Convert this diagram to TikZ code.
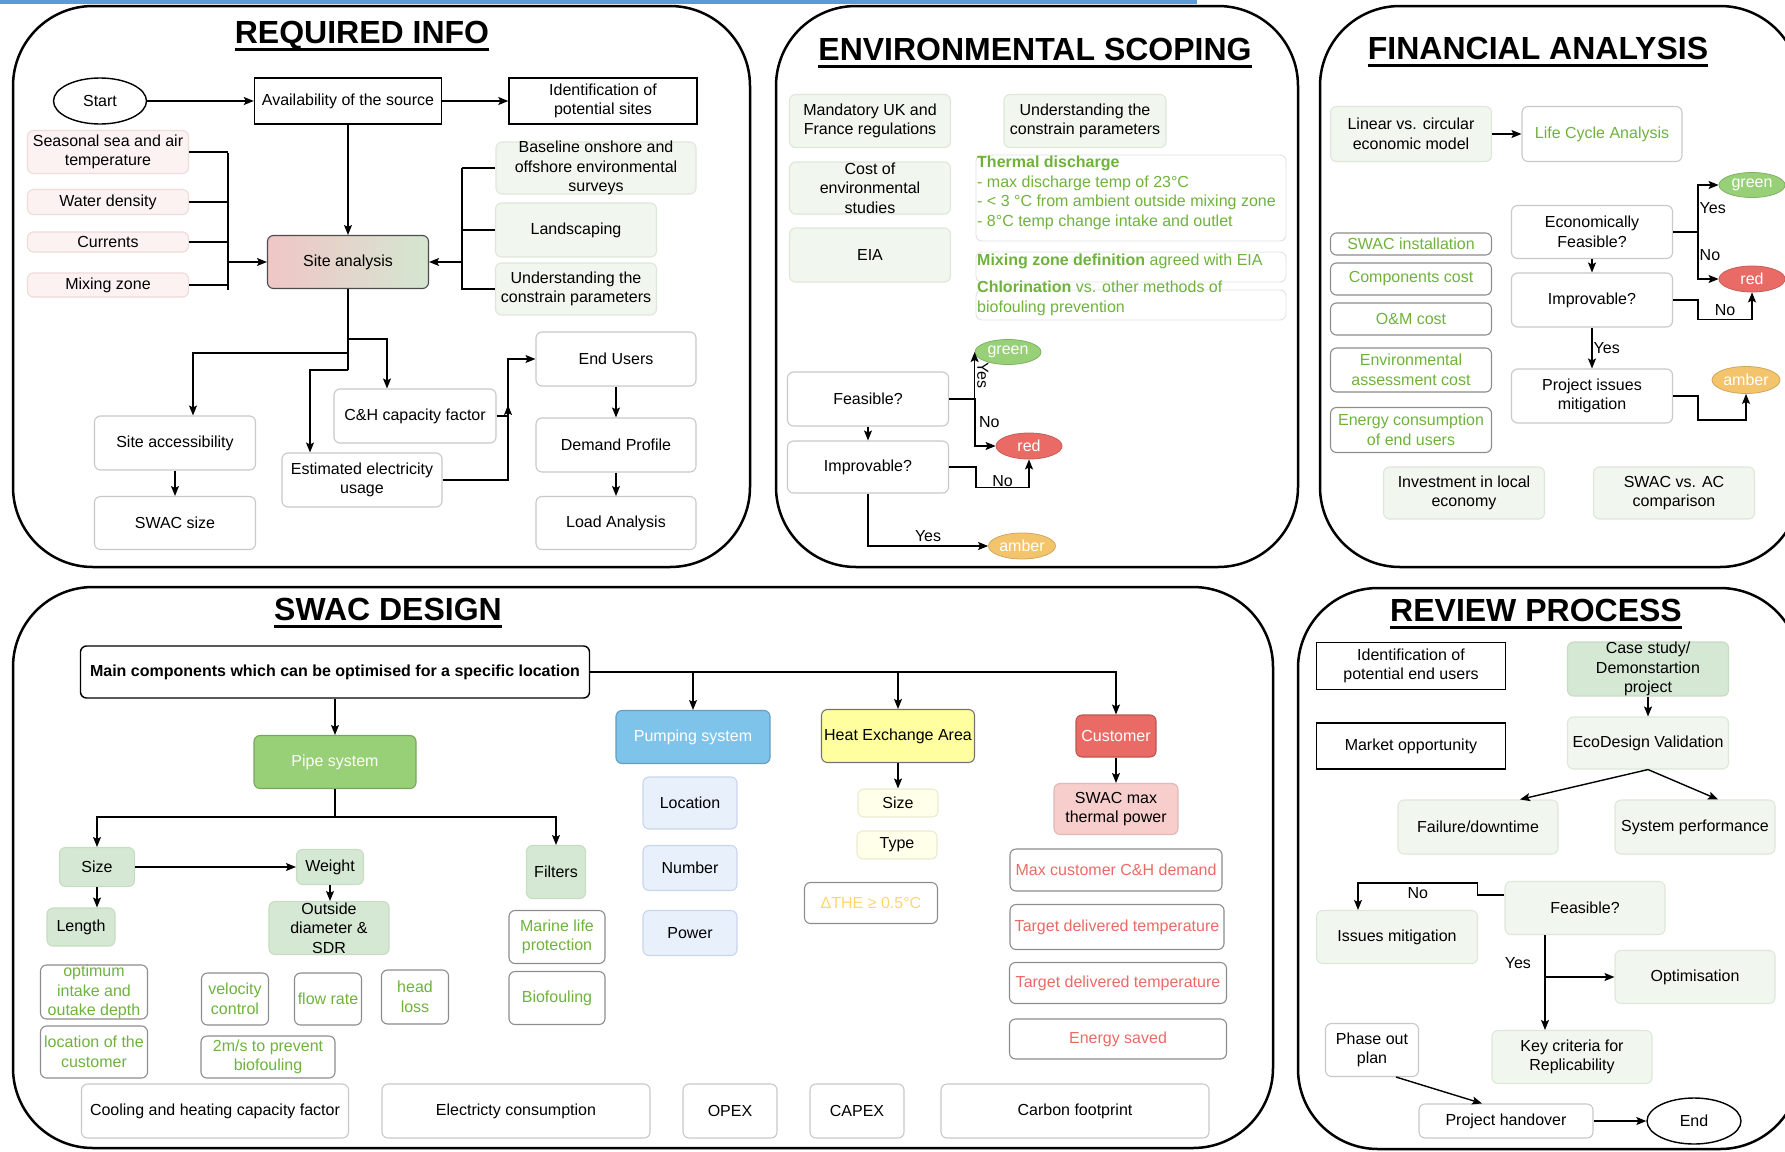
\documentclass[tikz,border=0pt]{standalone}
\usepackage{fontspec}
\setmainfont{Liberation Sans}
\usepackage{tikz}
\usetikzlibrary{positioning, arrows.meta, shapes.geometric}
\definecolor{barblue}{RGB}{91,155,213}
\definecolor{boxline}{RGB}{200,200,200}
\definecolor{darkline}{RGB}{140,140,140}
\definecolor{palegreen}{RGB}{241,246,238}
\definecolor{palegreenline}{RGB}{222,232,218}
\definecolor{midgreen}{RGB}{213,232,212}
\definecolor{leafline}{RGB}{200,220,195}
\definecolor{palepink}{RGB}{253,242,242}
\definecolor{palepinkline}{RGB}{240,218,218}
\definecolor{paleblue}{RGB}{232,240,252}
\definecolor{paleblueline}{RGB}{200,214,236}
\definecolor{paleyellow}{RGB}{255,255,234}
\definecolor{paleyellowline}{RGB}{235,235,210}
\definecolor{txtgreen}{RGB}{110,178,60}
\definecolor{txtred}{RGB}{234,107,102}
\definecolor{txtamber}{RGB}{255,214,110}
\definecolor{okgreen}{RGB}{151,208,119}
\definecolor{badred}{RGB}{234,107,102}
\definecolor{amber}{RGB}{244,196,108}
\definecolor{pumpblue}{RGB}{126,196,234}
\definecolor{heayellow}{RGB}{255,255,160}
\definecolor{custpink}{RGB}{248,206,204}
\definecolor{siteleft}{RGB}{240,198,198}
\definecolor{siteright}{RGB}{212,230,208}
\newcommand{\bodyfont}{\fontsize{16}{19.5}\selectfont}
\newcommand{\ttlfont}{\fontsize{32}{38}\selectfont\bfseries}

\begin{document}
\begin{tikzpicture}[x=1pt, y=-1pt, font=\bodyfont, >={Stealth[length=10pt, width=8pt, inset=2pt]},
  panel/.style={line width=2.5pt, rounded corners=80pt},
  ttl/.style={font=\ttlfont, inner sep=0pt, anchor=base},
  uline/.style={line width=3pt},
  conn/.style={line width=1.4pt},
  arr/.style={conn, ->},
  sz/.style 2 args={minimum width=#1, minimum height=#2},
  plain/.style={align=center, inner sep=0pt, rounded corners=6pt, line width=1.1pt},
  sbox/.style={plain, draw, sharp corners, line width=1.4pt},
  rbox/.style={plain, draw=boxline},
  dbox/.style={plain, draw=darkline},
  thinbox/.style={plain, draw=boxline!55, line width=0.9pt},
  pinkbox/.style={plain, draw=palepinkline, fill=palepink},
  greenbox/.style={plain, draw=palegreenline, fill=palegreen},
  leafbox/.style={plain, draw=leafline, fill=midgreen},
  bluebox/.style={plain, draw=paleblueline, fill=paleblue},
  yelbox/.style={plain, draw=paleyellowline, fill=paleyellow},
  oval/.style={ellipse, fill=#1, draw=#1!85!black, line width=0.8pt, text=white, inner sep=0pt, sz={66}{25}},
  tall/.style={inner ysep=-3pt},
  gt/.style={text=txtgreen}, rt/.style={text=txtred}]
  \useasboundingbox (0,0) rectangle (1785,1151);
  \clip (0,0) rectangle (1785,1151);

  % Frames
  \fill[barblue] (0,0) rectangle (1197,4);
  \draw[panel] (13,6) rectangle (750,567);
  \draw[panel] (776,6) rectangle (1298,567);
  \draw[panel] (1320,6) rectangle (1800,567);
  \draw[panel] (13,587) rectangle (1273,1148);
  \draw[panel] (1298,588) rectangle (1800,1149);
  \node[ttl] (t1) at (362,43) {REQUIRED INFO};
  \node[ttl] (t2) at (1035,60) {ENVIRONMENTAL SCOPING};
  \node[ttl] (t3) at (1538,59) {FINANCIAL ANALYSIS};
  \node[ttl] (t4) at (388,620) {SWAC DESIGN};
  \node[ttl] (t5) at (1536,621) {REVIEW PROCESS};
  \foreach \t in {t1,t2,t3,t4,t5}{
    \draw[uline] ([yshift=-6pt]\t.base west) -- ([yshift=-6pt]\t.base east);
  }

  % Required info
  \node[ellipse, draw, line width=1.4pt, inner sep=0pt, sz={93}{46}] (start) at (100,101) {Start};
  \node[sbox, sz={187}{46}] (avail) at (348,101) {Availability of the source};
  \node[sbox, sz={188}{46}] (ident) at (603,101) {Identification of\\potential sites};
  \node[pinkbox, sz={161}{43}] (seas) at (108,152) {Seasonal sea and air\\temperature};
  \node[pinkbox, sz={161}{25}] (dens) at (108,202) {Water density};
  \node[pinkbox, sz={161}{20}] (curr) at (108,242) {Currents};
  \node[pinkbox, sz={161}{24}] (mixz) at (108,285) {Mixing zone};
  \node[plain, draw=black!70, left color=siteleft, right color=siteright, sz={161}{53}] (site) at (348,262) {Site analysis};
  \node[greenbox, tall, sz={200}{52}] (surv) at (596,168) {Baseline onshore and\\offshore environmental\\surveys};
  \node[greenbox, sz={161}{54}] (land) at (576,230) {Landscaping};
  \node[greenbox, sz={161}{52}] (cons) at (576,289) {Understanding the\\constrain parameters};
  \node[rbox, sz={161}{54}] (acc) at (175,443) {Site accessibility};
  \node[rbox, sz={161}{53}] (swsz) at (175,523) {SWAC size};
  \node[rbox, sz={160}{54}] (est) at (362,480) {Estimated electricity\\usage};
  \node[rbox, sz={162}{54}] (chf) at (415,416) {C\&H capacity factor};
  \node[rbox, sz={160}{54}] (endu) at (616,359) {End Users};
  \node[rbox, sz={160}{54}] (dem) at (616,445) {Demand Profile};
  \node[rbox, sz={160}{53}] (load) at (616,523) {Load Analysis};
  \coordinate (lbt) at (228,153);
  \coordinate (lbb) at (228,290);
  \coordinate (rbt) at (462,168);
  \coordinate (rbb) at (462,290);
  \draw[arr] (start) -- (avail);
  \draw[arr] (avail) -- (ident);
  \draw[arr] (avail) -- (site);
  \foreach \n in {seas,dens,curr,mixz}{
    \draw[conn] (\n.east) -- (\n.east -| lbt);
  }
  \draw[conn] (lbt) -- (lbb);
  \draw[arr] (site.west -| lbt) -- (site.west);
  \foreach \n in {surv,land,cons}{
    \draw[conn] (\n.west) -- (\n.west -| rbt);
  }
  \draw[conn] (rbt) -- (rbb);
  \draw[arr] (site.east -| rbt) -- (site.east);
  \coordinate (s1) at (348,339);
  \coordinate (s2) at (348,353);
  \coordinate (s3) at (348,370);
  \draw[conn] (site.south) -- (s3);
  \draw[arr] (s1) -| ([xshift=-28pt]chf.north);
  \draw[arr] (s2) -| ([xshift=18pt]acc.north);
  \draw[arr] (s3) -| ([xshift=-52pt]est.north);
  \draw[arr] (acc) -- (swsz);
  \coordinate (cj) at (508,416);
  \draw[arr] (est.east) -| ([yshift=11pt]cj);
  \draw[arr] (chf.east) -- (cj) |- (endu.west);
  \draw[arr] (endu) -- (dem);
  \draw[arr] (dem) -- (load);

  % Environmental scoping
  \node[greenbox, sz={161}{53}] (mand) at (870,121) {Mandatory UK and\\France regulations};
  \node[greenbox, tall, sz={161}{52}] (cost) at (870,188) {Cost of\\environmental\\studies};
  \node[greenbox, sz={161}{54}] (eia) at (870,255) {EIA};
  \node[greenbox, sz={162}{53}] (ucons) at (1085,121) {Understanding the\\constrain parameters};
  \node[thinbox, sz={310}{86}] (tdbox) at (1131,198) {};
  \node[gt, anchor=north west, align=left, inner sep=0pt] (tdtxt) at (977,156)
    {\textbf{Thermal discharge}\\- max discharge temp of 23°C\\- < 3 °C from ambient outside mixing zone\\- 8°C temp change intake and outlet};
  \node[thinbox, sz={310}{30}] (mixbox) at (1131,267) {};
  \node[gt, anchor=west, inner sep=0pt] (mixd) at (977,261)
    {\textbf{Mixing zone definition} agreed with EIA};
  \node[thinbox, sz={310}{30}] (chlbox) at (1131,305) {};
  \node[gt, anchor=north west, align=left, inner sep=0pt] (chltxt) at (977,281)
    {\textbf{Chlorination} vs. other methods of\\biofouling prevention};
  \node[rbox, sz={161}{54}] (feas) at (868,399) {Feasible?};
  \node[rbox, sz={161}{52}] (impr) at (868,467) {Improvable?};
  \node[oval=okgreen] (egrn) at (1008,352) {green};
  \node[oval=badred, minimum height=26] (ered) at (1029,446) {red};
  \node[oval=amber, sz={67}{26}] (eamb) at (1022,546) {amber};
  \coordinate (fj) at (975,399);
  \draw[conn] (feas.east) -- (fj);
  \draw[arr] (fj) -| (egrn.west) node[pos=0.75, anchor=south, rotate=-90, inner sep=2pt] {Yes};
  \draw[arr] (fj) |- (ered.west) node[pos=0.25, right] {No};
  \draw[arr] (feas) -- (impr);
  \draw[arr] (impr.east) -- ++(27,0) |- node[pos=0.75, yshift=6pt] {No} ([yshift=-28pt]ered.south) -- (ered.south);
  \draw[arr] (impr.south) |- node[pos=0.75, above] {Yes} (eamb.west);

  % Financial analysis
  \node[greenbox, sz={161}{55}] (lin) at (1411,134) {Linear vs. circular\\economic model};
  \node[rbox, gt, sz={160}{55}] (lca) at (1602,134) {Life Cycle Analysis};
  \node[dbox, gt, sz={161}{22}] (swi) at (1411,244) {SWAC installation};
  \node[dbox, gt, sz={161}{32}] (comp) at (1411,279) {Components cost};
  \node[dbox, gt, sz={161}{32}] (om) at (1411,319) {O\&M cost};
  \node[dbox, gt, sz={161}{44}] (envc) at (1411,370) {Environmental\\assessment cost};
  \node[dbox, gt, sz={161}{45}] (enc) at (1411,430) {Energy consumption\\of end users};
  \node[rbox, sz={161}{53}] (efeas) at (1592,232) {Economically\\Feasible?};
  \node[rbox, sz={161}{54}] (fimp) at (1592,300) {Improvable?};
  \node[rbox, sz={161}{54}] (proj) at (1592,396) {Project issues\\mitigation};
  \node[oval=okgreen] (fgrn) at (1752,185) {green};
  \node[oval=badred, minimum height=26] (fred) at (1752,279) {red};
  \node[oval=amber, sz={68}{27}] (famb) at (1746,380) {amber};
  \node[greenbox, sz={161}{52}] (inv) at (1464,493) {Investment in local\\economy};
  \node[greenbox, sz={161}{52}] (svac) at (1674,493) {SWAC vs. AC\\comparison};
  \draw[arr] (lin) -- (lca);
  \coordinate (ej) at (1698,232);
  \draw[conn] (efeas.east) -- (ej);
  \draw[arr] (ej) |- (fgrn.west) node[pos=0.25, right, inner sep=1pt] {Yes};
  \draw[arr] (ej) |- (fred.west) node[pos=0.25, right, inner sep=1pt] {No};
  \draw[arr] (efeas) -- (fimp);
  \draw[arr] (fimp) -- (proj) node[midway, right, inner sep=1pt] {Yes};
  \draw[arr] (fimp.east) -- ++(25,0) |- node[pos=0.75, above] {No} ([yshift=-27pt]fred.south) -- (fred.south);
  \draw[arr] (proj.east) -- ++(25,0) |- ([yshift=-26pt]famb.south) -- (famb.south);

  % SWAC design
  \node[plain, draw, line width=1.4pt, font=\bodyfont\bfseries, sz={509}{52}] (main) at (335,672)
    {Main components which can be optimised for a specific location};
  \node[plain, draw=okgreen!80!black, fill=okgreen, text=white, sz={162}{53}] (pipe) at (335,762) {Pipe system};
  \node[plain, draw=pumpblue!80!black, fill=pumpblue, text=white, sz={154}{53}] (pump) at (693,737) {Pumping system};
  \node[plain, draw=black!55, fill=heayellow, sz={153}{53}] (hea) at (898,736) {Heat Exchange Area};
  \node[plain, draw=badred!80!black, fill=badred, text=white, sz={80}{42}] (cust) at (1116,736) {Customer};
  \node[leafbox, sz={75}{39}] (psize) at (97,867) {Size};
  \node[leafbox, sz={67}{35}] (weight) at (330,867) {Weight};
  \node[leafbox, tall, sz={120}{53}] (outd) at (329,928) {Outside\\diameter \&\\SDR};
  \node[leafbox, sz={68}{38}] (len) at (81,927) {Length};
  \node[leafbox, sz={59}{53}] (filt) at (556,872) {Filters};
  \node[dbox, gt, tall, sz={107}{54}] (optd) at (94,992) {optimum\\intake and\\outake depth};
  \node[dbox, gt, sz={107}{52}] (loc) at (94,1052) {location of the\\customer};
  \node[dbox, gt, sz={67}{52}] (velo) at (235,999) {velocity\\control};
  \node[dbox, gt, sz={67}{52}] (flow) at (328,999) {flow rate};
  \node[dbox, gt, sz={67}{54}] (head) at (415,997) {head\\loss};
  \node[dbox, gt, sz={134}{42}] (twoms) at (268,1057) {2m/s to prevent\\biofouling};
  \node[dbox, gt, sz={96}{53}] (marl) at (557,937) {Marine life\\protection};
  \node[dbox, gt, sz={96}{53}] (biof) at (557,998) {Biofouling};
  \node[bluebox, sz={94}{52}] (ploc) at (690,803) {Location};
  \node[bluebox, sz={94}{45}] (pnum) at (690,868) {Number};
  \node[bluebox, sz={94}{45}] (ppow) at (690,933) {Power};
  \node[yelbox, sz={80}{28}] (hsz) at (898,803) {Size};
  \node[yelbox, sz={80}{28}] (htyp) at (897,845) {Type};
  \node[dbox, text=txtamber, sz={133}{41}] (dthe) at (871,903) {ΔTHE ≥ 0.5°C};
  \node[plain, draw=custpink!90!black, fill=custpink, sz={124}{51}] (swmax) at (1116,809) {SWAC max\\thermal power};
  \node[dbox, rt, sz={212}{42}] (mxd) at (1116,870) {Max customer C\&H demand};
  \node[dbox, rt, sz={214}{45}] (tdt1) at (1117,927) {Target delivered temperature};
  \node[dbox, rt, sz={217}{41}] (tdt2) at (1118,983) {Target delivered temperature};
  \node[dbox, rt, sz={217}{40}] (ensv) at (1118,1039) {Energy saved};
  \node[rbox, sz={267}{54}] (chcf) at (215,1111) {Cooling and heating capacity factor};
  \node[rbox, sz={268}{54}] (elec) at (516,1111) {Electricty consumption};
  \node[rbox, sz={94}{54}] (opex) at (730,1111) {OPEX};
  \node[rbox, sz={94}{54}] (capex) at (857,1111) {CAPEX};
  \node[rbox, sz={268}{54}] (carb) at (1075,1111) {Carbon footprint};
  \draw[arr] (main.east) -| (cust.north);
  \draw[arr] (main.east -| pump.north) -- (pump.north);
  \draw[arr] (main.east -| hea.north) -- (hea.north);
  \draw[arr] (main) -- (pipe);
  \coordinate (pj) at (335,817);
  \draw[conn] (pipe.south) -- (pj);
  \draw[arr] (pj) -| (psize.north);
  \draw[arr] (pj) -| (filt.north);
  \draw[arr] (psize.east) -- (weight.west);
  \draw[arr] (psize.south) -- (psize.south |- len.north);
  \draw[arr] (weight.south) -- (weight.south |- outd.north);
  \draw[arr] (hea) -- (hsz);
  \draw[arr] (cust) -- (swmax);

  % Review process
  \node[sbox, sz={189}{47}] (idu) at (1411,666) {Identification of\\potential end users};
  \node[sbox, sz={189}{46}] (mkt) at (1411,746) {Market opportunity};
  \node[leafbox, tall, sz={161}{54}] (case) at (1648,669) {Case study/\\Demonstartion\\project};
  \node[greenbox, sz={161}{52}] (ecod) at (1648,743) {EcoDesign Validation};
  \node[greenbox, sz={160}{54}] (fail) at (1478,827) {Failure/downtime};
  \node[greenbox, sz={160}{54}] (sysp) at (1695,827) {System performance};
  \node[greenbox, sz={160}{53}] (rfeas) at (1585,908) {Feasible?};
  \node[greenbox, sz={161}{53}] (iss) at (1397,937) {Issues mitigation};
  \node[greenbox, sz={160}{53}] (opti) at (1695,977) {Optimisation};
  \node[greenbox, sz={160}{53}] (key) at (1572,1057) {Key criteria for\\Replicability};
  \node[rbox, sz={93}{53}] (phase) at (1372,1050) {Phase out\\plan};
  \node[rbox, sz={174}{34}] (hand) at (1506,1121) {Project handover};
  \node[ellipse, draw, line width=1.4pt, inner sep=0pt, sz={94}{46}] (endn) at (1694,1121) {End};
  \draw[arr] (case) -- (ecod);
  \draw[arr] (ecod.south) -- ([xshift=42pt]fail.north);
  \draw[arr] (ecod.south) -- ([xshift=23pt]sysp.north);
  \draw[arr] ([yshift=13pt]rfeas.west) -- ++(-27,0) -- ++(0,-12) -| node[pos=0.25, below] {No} ([xshift=-39pt]iss.north);
  \coordinate (yj) at (1545,977);
  \draw[arr] ([xshift=-40pt]rfeas.south) -- ([xshift=-27pt]key.north) node[pos=0.3, left=10pt] {Yes};
  \draw[arr] (yj) -- (opti.west);
  \draw[arr] ([xshift=24pt]phase.south) -- ([xshift=-24pt]hand.north);
  \draw[arr] (hand) -- (endn);
\end{tikzpicture}
\end{document}
